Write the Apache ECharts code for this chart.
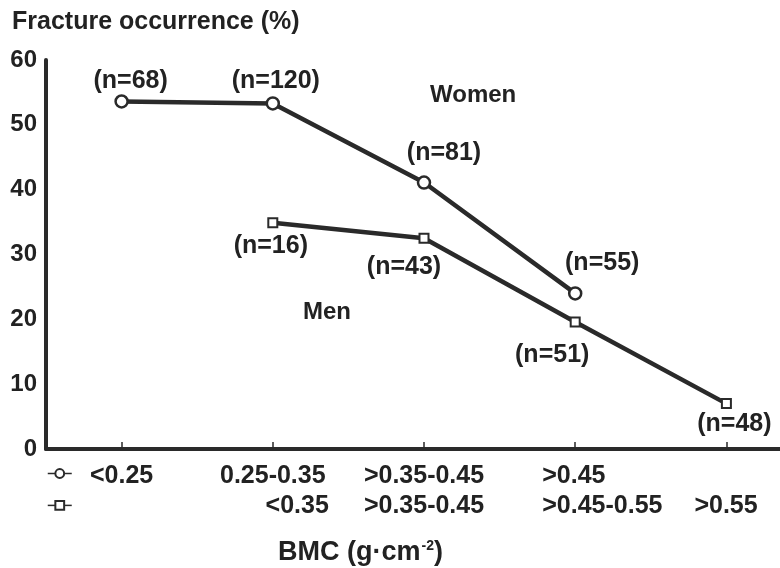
<!DOCTYPE html>
<html>
<head>
<meta charset="utf-8">
<script src="https://cdn.jsdelivr.net/npm/echarts@6/dist/echarts.min.js"></script>
<style>html,body{margin:0;padding:0;background:#fff}#c{width:780px;height:568px}</style>
</head>
<body>
<div id="c"></div>
<script>
// ---- data ----
const categoriesWomen = ['<0.25', '0.25-0.35', '>0.35-0.45', '>0.45', ''];
const categoriesMen = ['', '<0.35', '>0.35-0.45', '>0.45-0.55', '>0.55'];
const women = [53.6, 53.3, 41.1, 24.0, '-'];
const men = ['-', 34.9, 32.5, 19.6, 7.0];
const womenN = [68, 120, 81, 55, null];
const menN = [null, 16, 43, 51, 48];
const yMin = 0, yMax = 60, yStep = 10;

// ---- style / layout ----
const FONT = '"Liberation Sans", Arial, Helvetica, sans-serif';
const INK = '#222';
const LINE = '#2a2a2a';
const womenLabelOffsets = [[9, -20], [3, -22], [20, -29], [27, -30], [0, 0]];
const menLabelOffsets = [[0, 0], [-2, 23], [-20, 29], [-23, 33], [8, 20]];

const txt = (size) => ({ fontFamily: FONT, fontWeight: 'bold', fontSize: size, color: INK });

function seriesData(vals, offsets) {
  return vals.map((v, i) => v === '-' ? '-' : { value: v, label: { offset: offsets[i] } });
}

const chart = echarts.init(document.getElementById('c'), null, { renderer: 'canvas' });
const option = {
  animation: false,
  backgroundColor: '#fff',
  title: [
    { text: 'Fracture occurrence (%)', left: 7, top: 5, textStyle: txt(25) },
    {
      text: 'BMC (g·cm{sup|-2})', left: 273, top: 534,
      textStyle: Object.assign(txt(27), { rich: { sup: Object.assign(txt(14), { verticalAlign: 'top', padding: [0, 0, 11, 1] }) } })
    }
  ],
  legend: {
    data: ['Women', 'Men'],
    orient: 'vertical', left: 42, top: 463,
    itemWidth: 24, itemHeight: 11, itemGap: 21,
    formatter: () => '',
    lineStyle: { width: 1.5 },
    textStyle: { fontSize: 10 }
  },
  grid: { left: 46, width: 756, top: 60, bottom: 119, containLabel: false, outerBoundsMode: 'none' },
  xAxis: [
    {
      type: 'category', data: categoriesWomen, position: 'bottom', boundaryGap: true,
      axisLine: { lineStyle: { color: LINE, width: 4 } },
      axisTick: { show: true, inside: true, alignWithLabel: true, length: 7, lineStyle: { color: LINE, width: 1.5 } },
      axisLabel: {
        interval: 0, margin: 15, ...txt(25),
        formatter: (v, i) => v === '' ? '' : '{s' + i + '|' + v + '}',
        rich: {
          s0: txt(25), s1: txt(25), s2: txt(25),
          s3: Object.assign(txt(25), { width: 66, align: 'left' }),
          s4: txt(25)
        }
      }
    },
    {
      type: 'category', data: categoriesMen, position: 'bottom', offset: 0, boundaryGap: true,
      axisLine: { show: false }, axisTick: { show: false },
      axisLabel: {
        interval: 0, margin: 45, ...txt(25),
        formatter: (v, i) => v === '' ? '' : '{s' + i + '|' + v + '}',
        rich: {
          s0: txt(25),
          s1: Object.assign(txt(25), { width: 112, align: 'right' }),
          s2: txt(25),
          s3: Object.assign(txt(25), { width: 66, align: 'left' }),
          s4: Object.assign(txt(25), { width: 64, align: 'left' })
        }
      }
    }
  ],
  yAxis: {
    type: 'value', min: yMin, max: yMax, interval: yStep,
    axisLine: { show: true, lineStyle: { color: LINE, width: 4 } },
    axisTick: { show: false },
    splitLine: { show: false },
    axisLabel: { margin: 9, ...txt(24) }
  },
  series: [
    {
      name: 'Women', type: 'line', xAxisIndex: 0,
      data: seriesData(women, womenLabelOffsets),
      symbol: 'circle', symbolSize: 12,
      lineStyle: { color: LINE, width: 4.5 },
      itemStyle: { color: '#fff', borderColor: LINE, borderWidth: 2.5 },
      label: {
        show: true, position: 'inside', ...txt(25),
        formatter: p => '(n=' + womenN[p.dataIndex] + ')'
      },
      z: 3
    },
    {
      name: 'Men', type: 'line', xAxisIndex: 1,
      data: seriesData(men, menLabelOffsets),
      symbol: 'rect', symbolSize: 9,
      lineStyle: { color: LINE, width: 4.5 },
      itemStyle: { color: '#fff', borderColor: LINE, borderWidth: 2 },
      label: {
        show: true, position: 'inside', ...txt(25),
        formatter: p => '(n=' + menN[p.dataIndex] + ')'
      },
      z: 3
    }
  ],
  graphic: [
    { type: 'text', left: 430, top: 83, style: { text: 'Women', font: 'bold 24px ' + FONT, fill: INK } },
    { type: 'text', left: 303, top: 300, style: { text: 'Men', font: 'bold 24px ' + FONT, fill: INK } }
  ]
};
chart.setOption(option);
</script>
</body>
</html>
